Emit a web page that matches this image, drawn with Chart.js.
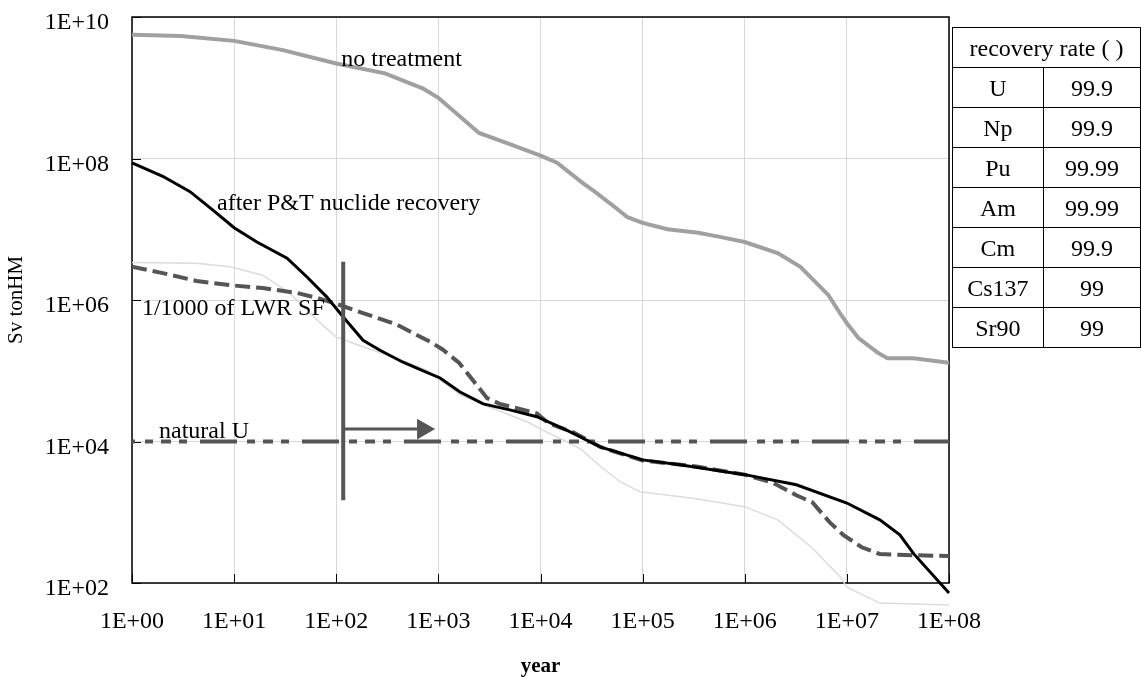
<!DOCTYPE html>
<html>
<head>
<meta charset="utf-8">
<script src="https://cdn.jsdelivr.net/npm/chart.js@4.4.1/dist/chart.umd.min.js"></script>
<style>
  html, body { margin: 0; padding: 0; background: #fff; }
  #wrap { position: relative; width: 1141px; height: 677px; overflow: hidden; }
  #c { position: absolute; left: 0; top: 0; }
  #tbl { position: absolute; left: 952px; top: 27px; border-collapse: collapse;
         font-family: 'Liberation Serif', 'Times New Roman', serif; font-size: 24px; color: #000; }
  #tbl td { border: 1.5px solid #000; text-align: center; padding: 0; height: 39px; line-height: 24px; }
  #tbl td.h { height: 39px; }
</style>
</head>
<body>
<div id="wrap">
  <canvas id="c" width="1141" height="677"></canvas>
  <table id="tbl"></table>
</div>
<script>
// ---------- data ----------
const xTickValues = [1, 1e1, 1e2, 1e3, 1e4, 1e5, 1e6, 1e7, 1e8];
const xTickLabels = ['1E+00','1E+01','1E+02','1E+03','1E+04','1E+05','1E+06','1E+07','1E+08'];
const yTickValues = [1e2, 1e4, 1e6, 1e8, 1e10];
const yTickLabels = ['1E+02','1E+04','1E+06','1E+08','1E+10'];

const noTreatYears = [1, 3, 10, 30, 100, 300, 700, 1000, 2500, 5000, 1e4, 1.45e4, 2.6e4, 3.4e4, 5.6e4, 7.1e4, 1e5, 1.75e5, 3.5e5, 5.7e5, 1e6, 2.1e6, 3.5e6, 6.6e6, 8.5e6, 1e7, 1.3e7, 2e7, 2.5e7, 4.5e7, 1e8];
const noTreatSv    = [5.6e9, 5.4e9, 4.6e9, 3.4e9, 2.2e9, 1.6e9, 9.8e8, 7.2e8, 2.3e8, 1.6e8, 1.1e8, 8.7e7, 4.5e7, 3.4e7, 1.95e7, 1.48e7, 1.23e7, 1.0e7, 8.9e6, 7.8e6, 6.6e6, 4.6e6, 2.95e6, 1.17e6, 6.6e5, 4.7e5, 2.9e5, 1.8e5, 1.5e5, 1.5e5, 1.3e5];

const ptYears = [1, 2, 3.7, 6.2, 10, 16.7, 33, 52, 81, 117, 183, 268, 450, 770, 1040, 1630, 2750, 5000, 9200, 1.8e4, 3.9e4, 1e5, 2.3e5, 1e6, 3.2e6, 1e7, 2.1e7, 3.3e7, 4.5e7, 1e8];
const ptSv    = [8.7e7, 5.6e7, 3.4e7, 1.86e7, 1.05e7, 6.6e6, 3.9e6, 2.1e6, 1.1e6, 5.75e5, 2.7e5, 1.95e5, 1.32e5, 9.5e4, 7.9e4, 5.0e4, 3.4e4, 2.8e4, 2.24e4, 1.45e4, 8.3e3, 5.5e3, 4.7e3, 3.4e3, 2.45e3, 1.35e3, 780, 480, 260, 72];

const lwrYears = [1, 2, 4.3, 9.1, 19, 41, 65, 108, 180, 390, 830, 1100, 1600, 2200, 3000, 4000, 9200, 1.2e4, 2.1e4, 3.9e4, 1e5, 3.5e5, 1e6, 1.9e6, 3.2e6, 4.6e6, 6.8e6, 9.2e6, 1.4e7, 2.1e7, 3.2e7, 1e8];
const lwrSv    = [2.95e6, 2.4e6, 1.86e6, 1.62e6, 1.48e6, 1.26e6, 1.07e6, 8.5e5, 6.6e5, 4.5e5, 2.57e5, 2.0e5, 1.29e5, 7.2e4, 4.1e4, 3.4e4, 2.5e4, 1.8e4, 1.35e4, 8.3e3, 5.4e3, 4.4e3, 3.4e3, 2.6e3, 1.74e3, 1.38e3, 720, 480, 320, 257, 250, 240];

const thinYears = [1, 4.3, 9.1, 19, 35, 65, 100, 180, 390, 770, 1630, 2750, 7400, 1.05e4, 1.8e4, 2.45e4, 3.9e4, 6e4, 9.4e4, 3.1e5, 1e6, 2.1e6, 4.5e6, 8.7e6, 1e7, 2.1e7, 1e8];
const thinSv    = [3.4e6, 3.3e6, 2.95e6, 2.24e6, 1.26e6, 5.2e5, 3.0e5, 2.2e5, 1.5e5, 1.02e5, 4.6e4, 3.3e4, 1.9e4, 1.45e4, 1.0e4, 7.9e3, 4.4e3, 2.7e3, 1.95e3, 1.58e3, 1.2e3, 780, 320, 120, 87, 52, 49];

const natUYears = [1, 1e8];
const natUSv    = [1e4, 1e4];

const markerYears = [117, 117];
const markerSv    = [3.47e6, 1.48e3];
const arrowYears  = [117, 708];
const arrowSv     = [1.5e4, 1.5e4];

const annoTexts = ['no treatment', 'after P&T nuclide recovery', '1/1000 of LWR SF', 'natural U'];
const annoYears = [112, 6.8, 1.25, 1.84];
const annoSv    = [2.05e9, 1.86e7, 6.2e5, 1.12e4];

const tableHeader = 'recovery rate ( )';
const nuclides = ['U', 'Np', 'Pu', 'Am', 'Cm', 'Cs137', 'Sr90'];
const recoveryRates = ['99.9', '99.9', '99.99', '99.99', '99.9', '99', '99'];

// ---------- table ----------
(function buildTable(){
  const t = document.getElementById('tbl');
  let html = '<tr><td class="h" colspan="2" style="width:190px">' + tableHeader + '</td></tr>';
  nuclides.forEach((n, i) => {
    html += '<tr><td style="width:91px">' + n + '</td><td style="width:98px">' + recoveryRates[i] + '</td></tr>';
  });
  t.innerHTML = html;
})();

// ---------- chart ----------
const pts = (xs, ys) => xs.map((x, i) => ({ x: x, y: ys[i] }));
const FONT = "'Liberation Serif', 'Times New Roman', serif";

const framePlugin = {
  id: 'frame',
  beforeDatasetsDraw(chart) {
    const { ctx, chartArea: a, scales } = chart;
    ctx.save();
    ctx.strokeStyle = '#000';
    ctx.lineWidth = 1;
    ctx.beginPath();
    yTickValues.forEach(v => {
      const y = Math.round(scales.y.getPixelForValue(v)) + 0.5;
      ctx.moveTo(a.left, y); ctx.lineTo(a.left + 9, y);
    });
    xTickValues.forEach(v => {
      const x = Math.round(scales.x.getPixelForValue(v)) + 0.5;
      ctx.moveTo(x, a.bottom); ctx.lineTo(x, a.bottom - 9);
    });
    ctx.stroke();
    ctx.lineWidth = 1.5;
    ctx.strokeRect(a.left, a.top, a.right - a.left, a.bottom - a.top);
    ctx.restore();
  },
  afterDatasetsDraw(chart) {
    const { ctx, scales } = chart;
    ctx.save();
    ctx.font = '24px ' + FONT;
    ctx.fillStyle = '#000';
    ctx.textAlign = 'left';
    ctx.textBaseline = 'alphabetic';
    annoTexts.forEach((txt, i) => {
      ctx.fillText(txt, scales.x.getPixelForValue(annoYears[i]), scales.y.getPixelForValue(annoSv[i]));
    });
    ctx.restore();
  }
};

new Chart(document.getElementById('c'), {
  type: 'line',
  data: {
    datasets: [
      { data: pts(thinYears, thinSv), borderColor: '#dcdcdc', borderWidth: 1.5, clip: false, order: 6 },
      { data: pts(noTreatYears, noTreatSv), borderColor: '#a0a0a0', borderWidth: 4, order: 5 },
      { data: pts(natUYears, natUSv), borderColor: '#555555', borderWidth: 4,
        borderDash: [37, 10, 8, 8, 10, 8, 8, 13], borderDashOffset: 34, order: 4 },
      { data: pts(lwrYears, lwrSv), borderColor: '#555555', borderWidth: 4, borderDash: [15, 6], order: 3 },
      { data: pts(ptYears, ptSv), borderColor: '#000000', borderWidth: 3, clip: false, order: 2 },
      { data: pts(markerYears, markerSv), borderColor: '#555555', borderWidth: 4, order: 1 },
      { data: pts(arrowYears, arrowSv), borderColor: '#555555', borderWidth: 3, order: 0,
        pointRadius: [0, 12], pointStyle: 'triangle', rotation: 90,
        pointBackgroundColor: '#555555', pointBorderColor: '#555555', pointBorderWidth: 0 }
    ]
  },
  options: {
    responsive: false,
    animation: false,
    devicePixelRatio: 1,
    layout: { padding: { left: 0, top: 17, right: 192, bottom: 0 } },
    elements: { point: { radius: 0, hoverRadius: 0 }, line: { tension: 0, fill: false } },
    plugins: { legend: { display: false }, tooltip: { enabled: false } },
    events: [],
    scales: {
      x: {
        type: 'logarithmic', position: 'bottom', min: 1, max: 1e8,
        afterBuildTicks: s => { s.ticks = xTickValues.map(v => ({ value: v })); },
        afterFit: s => { s.height = 94; s.paddingLeft = 0; s.paddingRight = 0; },
        ticks: { autoSkip: false, maxRotation: 0, minRotation: 0, padding: 24, color: '#000',
                 font: { family: FONT, size: 24 }, callback: (v, i) => xTickLabels[i] },
        grid: { color: '#d9d9d9', lineWidth: 1, drawTicks: false },
        border: { display: false },
        title: { display: true, text: 'year', color: '#000', padding: 0,
                 font: { family: FONT, size: 21, weight: 'bold', lineHeight: 1 } }
      },
      y: {
        type: 'logarithmic', position: 'left', min: 1e2, max: 1e10,
        afterBuildTicks: s => { s.ticks = yTickValues.map(v => ({ value: v })); },
        afterFit: s => { s.width = 132; s.paddingTop = 0; s.paddingBottom = 0; },
        ticks: { autoSkip: false, padding: 23, labelOffset: 6, color: '#000',
                 font: { family: FONT, size: 24 }, callback: (v, i) => yTickLabels[i] },
        grid: { color: '#d9d9d9', lineWidth: 1, drawTicks: false },
        border: { display: false },
        title: { display: true, text: 'Sv tonHM', color: '#000', padding: { top: 4, bottom: 0 },
                 font: { family: FONT, size: 21, lineHeight: 1.2 } }
      }
    }
  },
  plugins: [framePlugin]
});
</script>
</body>
</html>
